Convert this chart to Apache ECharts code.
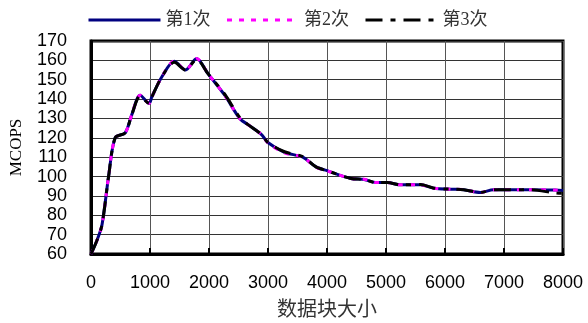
<!DOCTYPE html>
<html>
<head>
<meta charset="utf-8">
<script src="https://cdn.jsdelivr.net/npm/echarts@6/dist/echarts.min.js"></script>
<style>
  html, body { margin: 0; padding: 0; background: #fff; }
  #chart { width: 588px; height: 323px; }
</style>
</head>
<body>
<div id="chart"></div>
<script>
// 数据块大小
const blockSizes = [0, 100, 186, 298, 410, 580, 692, 833, 985, 1030, 1199, 1412, 1603, 1789, 1986, 2267, 2520, 2661, 2886, 2998, 3280, 3589, 3814, 4011, 4405, 4630, 4827, 5024, 5249, 5586, 5811, 6093, 6318, 6599, 6824, 7443, 7865, 8000]
// MCOPS
const run1 = [60, 67, 75, 100, 120, 122.6, 132, 142, 137.8, 141, 151.4, 159.6, 155, 161, 153, 142, 130, 126.8, 121.8, 117.6, 112.5, 110, 105, 102.9, 99, 98.5, 96.9, 96.9, 95.7, 95.7, 94, 93.5, 93.2, 91.8, 93.2, 93.2, 93, 92.8]
const run2 = [60, 67, 75, 100, 120, 122.6, 132, 142, 137.8, 141, 151.4, 159.6, 155, 161, 153, 142, 130, 126.8, 121.8, 117.4, 112.2, 110, 104.8, 102.9, 99, 98.6, 96.9, 96.9, 95.7, 95.7, 94, 93.5, 93.2, 91.8, 93.2, 93.2, 93, 92.8]
const run3 = [60, 67, 75, 100, 120, 122.6, 132, 141.5, 137.8, 141, 151.4, 159, 155, 160.5, 153, 142.5, 130.5, 126.8, 121.8, 117.6, 112.8, 110.3, 105, 102.9, 99, 98.5, 96.9, 96.9, 95.7, 95.9, 94, 93.5, 93.2, 91.8, 93.2, 93.2, 91.5, 91.3]
const legendNames = ['第1次', '第2次', '第3次']

const chart = echarts.init(document.getElementById('chart'))

const pairs = arr => blockSizes.map((x, i) => [x, arr[i]])

chart.setOption({
  animation: false,
  legend: {
    top: 6,
    left: 82,
    itemWidth: 72,
    itemHeight: 6,
    itemGap: 15,
    itemStyle: { opacity: 0 },
    lineStyle: { width: 3 },
    textStyle: {
      fontFamily: 'Liberation Serif, Noto Sans CJK SC',
      fontSize: 18,
      color: '#333',
      padding: [0, 0, 0, 0]
    },
    data: legendNames
  },
  grid: {
    left: 89,
    right: 25,
    top: 41,
    bottom: 64,
    show: true,
    borderColor: '#000',
    borderWidth: 3
  },
  xAxis: {
    type: 'value',
    min: 0,
    max: 8000,
    interval: 1000,
    name: '数据块大小',
    nameLocation: 'middle',
    nameGap: 44,
    nameTextStyle: { fontFamily: 'Noto Sans CJK SC', fontSize: 20, color: '#333' },
    axisLine: { show: true, lineStyle: { color: '#000', width: 3 } },
    axisTick: { show: true, inside: true, length: 6, lineStyle: { color: '#000', width: 2 } },
    axisLabel: { margin: 20, fontFamily: 'Liberation Sans', fontSize: 18, color: '#000', formatter: v => String(v) },
    splitLine: { show: true, lineStyle: { color: '#555', width: 1 } }
  },
  yAxis: {
    type: 'value',
    min: 60,
    max: 170,
    interval: 10,
    name: 'MCOPS',
    nameLocation: 'middle',
    nameGap: 66,
    nameRotate: 90,
    nameTextStyle: { fontFamily: 'Liberation Serif', fontSize: 17, color: '#000' },
    axisLine: { show: true, lineStyle: { color: '#000', width: 3 } },
    axisTick: { show: false },
    axisLabel: { margin: 24, fontFamily: 'Liberation Sans', fontSize: 18, color: '#000' },
    splitLine: { show: true, lineStyle: { color: '#333', width: 1 } }
  },
  series: [
    {
      name: legendNames[0],
      type: 'line',
      smooth: 0.3,
      symbol: 'none',
      z: 2,
      lineStyle: { color: '#000080', width: 3, type: 'solid' },
      itemStyle: { color: '#000080' },
      data: pairs(run1)
    },
    {
      name: legendNames[1],
      type: 'line',
      smooth: 0.3,
      symbol: 'none',
      z: 3,
      lineStyle: { color: '#ff00ff', width: 3, type: [5, 7] },
      itemStyle: { color: '#ff00ff' },
      data: pairs(run2)
    },
    {
      name: legendNames[2],
      type: 'line',
      smooth: 0.3,
      symbol: 'none',
      z: 4,
      lineStyle: { color: '#000', width: 3, type: [17, 8, 5, 8] },
      itemStyle: { color: '#000' },
      data: pairs(run3)
    }
  ]
})
</script>
</body>
</html>
